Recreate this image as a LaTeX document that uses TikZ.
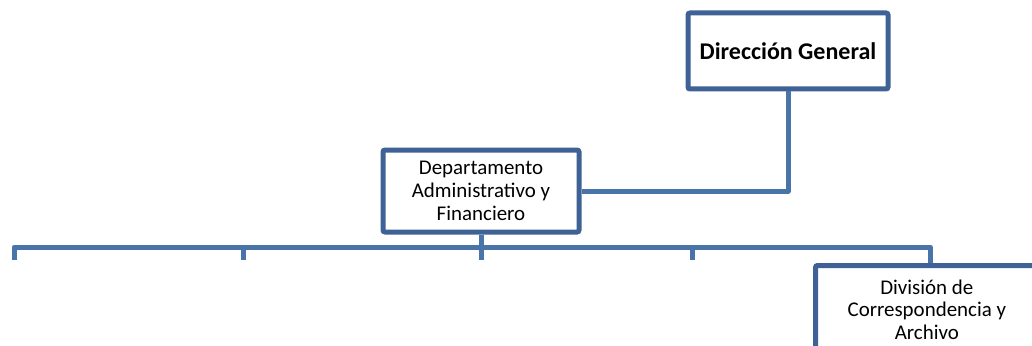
\documentclass[tikz,border=0pt]{standalone}
\usepackage{fontspec}
\setmainfont{Carlito}
\usetikzlibrary{positioning}
\definecolor{boxblue}{RGB}{62,98,150}
\definecolor{lineblue}{RGB}{72,116,170}
\tikzstyle{unit}=[draw=boxblue,line width=3.75pt,rounded corners=1.5pt,fill=white,align=center,text=black,inner sep=0,font=\fontsize{15.7}{17}\selectfont]
\tikzstyle{link}=[draw=lineblue,line width=3.75pt,line join=round]

\begin{document}
\begin{tikzpicture}[x=0.75pt,y=-0.75pt]

	\useasboundingbox (0,0) rectangle (1032,346);
	\clip (0,0) rectangle (1032,346);

	\node[unit,minimum width=150pt,minimum height=57pt,font=\fontsize{18}{20}\selectfont\bfseries] (dg) at (788,51) {Dirección General};
	\node[unit,minimum width=147pt,minimum height=61.5pt] (daf) at (481,191) {Departamento\\Administrativo y\\Financiero};

	% bus
	\coordinate (bus) at (481,247);
	\coordinate (d1) at (14,260);
	\coordinate (d5) at (930,263);

	\path[link] (dg.south) |- (daf.east);
	\path[link] (d1) |- (bus) -| (d5);
	\path[link] (daf.south) -- (481,260);

	\foreach \x/\n in {243/d2,692/d4}{
		\coordinate (\n) at (\x,260);
		\path[link] (\n) -- (\n |- bus);
	}

	\node[unit,anchor=north west,minimum width=167pt,minimum height=66pt] (dca) at (813,263) {División de\\Correspondencia y\\Archivo};

\end{tikzpicture}
\end{document}
